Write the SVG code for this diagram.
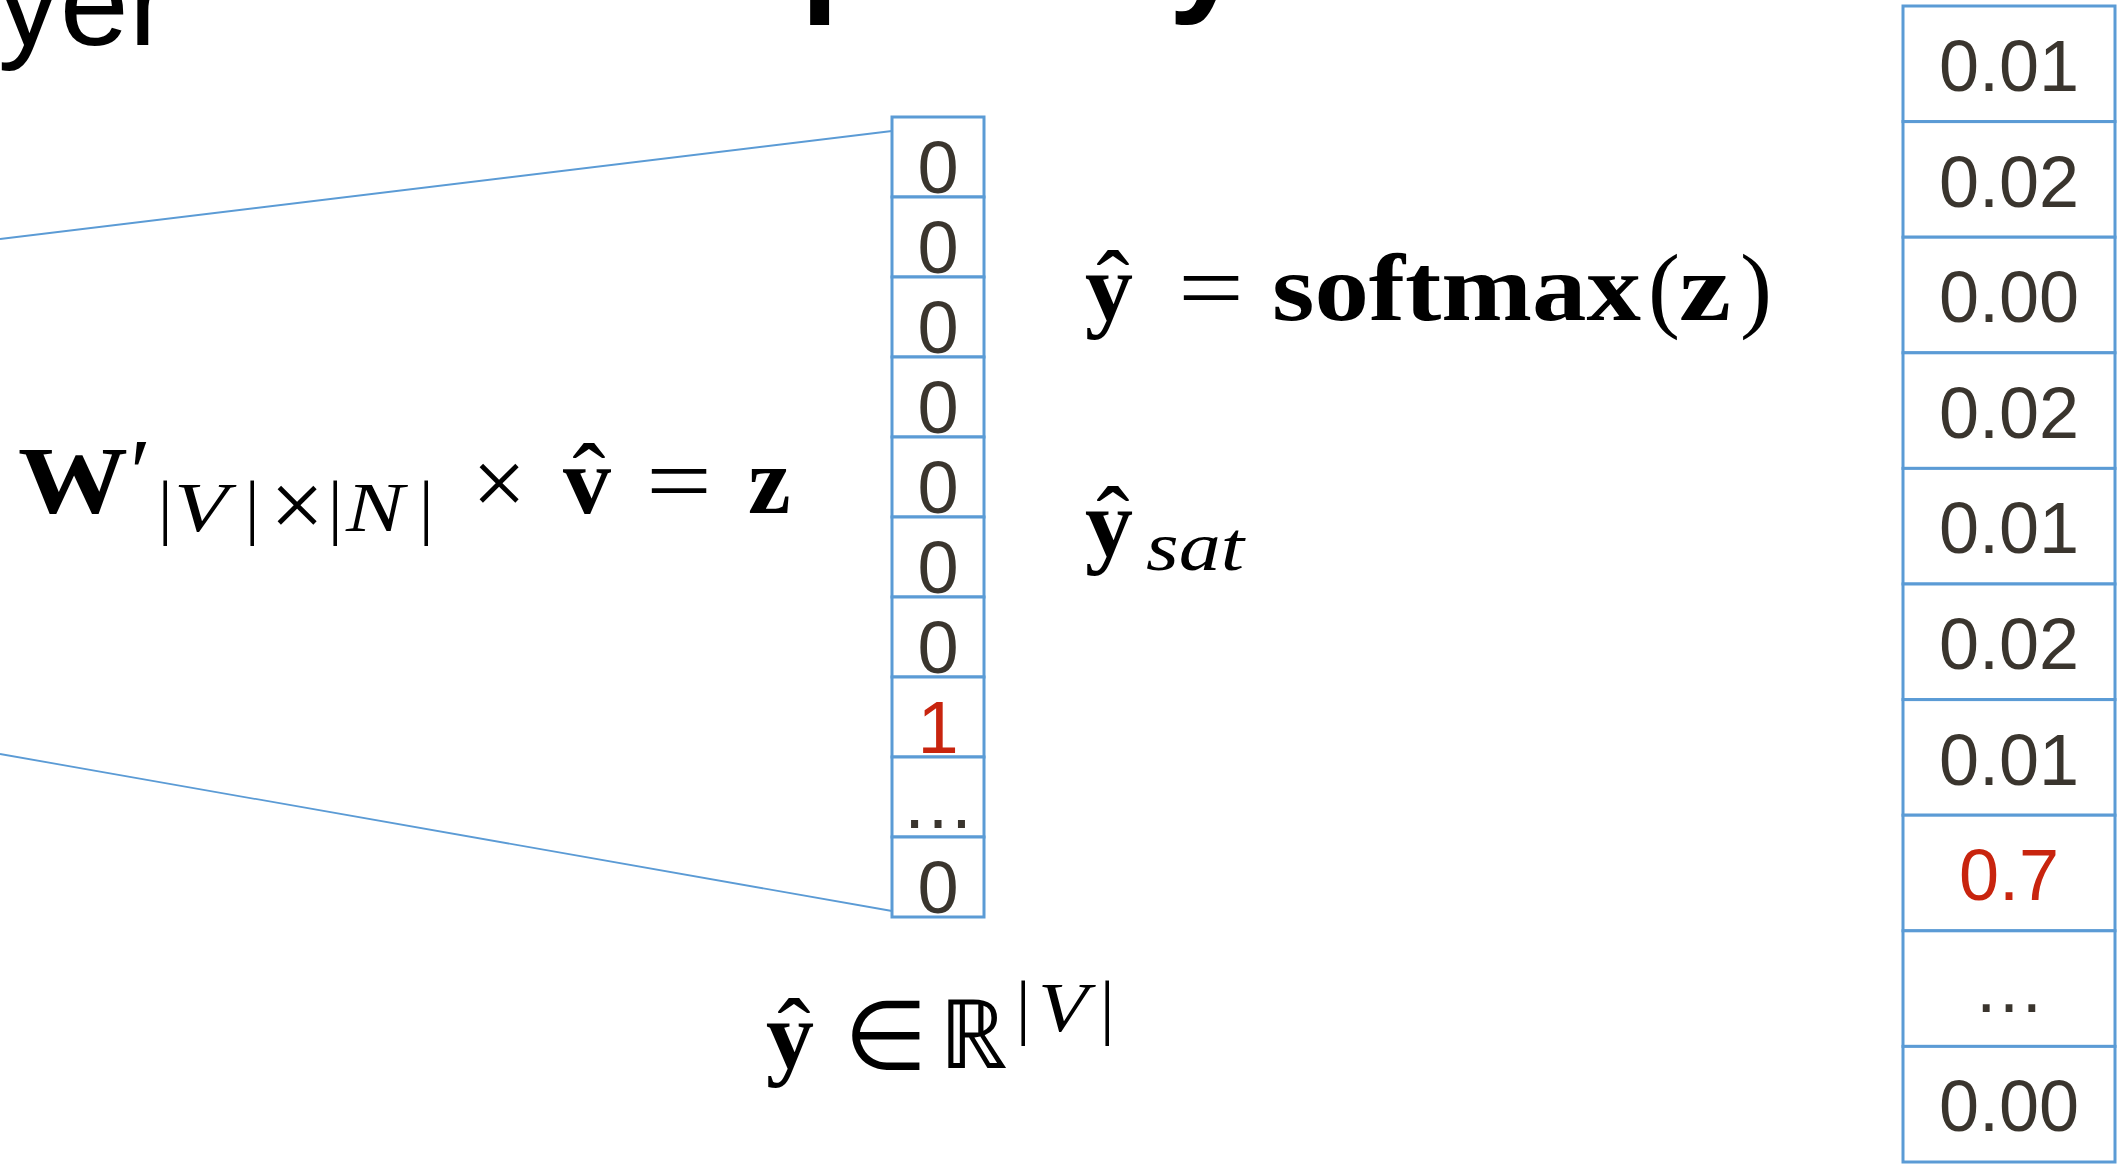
<svg xmlns="http://www.w3.org/2000/svg" width="2126" height="1168" viewBox="0 0 2126 1168">
<style>
.cell{fill:#ffffff;stroke:#5b9bd5;stroke-width:3}
.conn{stroke:#5b9bd5;stroke-width:1.8;fill:none}
.num{font-family:"Liberation Sans",Arial,sans-serif;fill:#3a352e;text-anchor:middle}
.mid{font-size:74px}
.prob{font-size:72px}
.red{fill:#c8240e}
.m{font-family:"Liberation Serif","Times New Roman",serif;fill:#000;font-size:96px}
.b{font-weight:bold}
.i{font-style:italic}
.s{font-size:70px}
.bar{font-size:72px}
.hat{font-family:"Liberation Serif","Times New Roman",serif;font-size:100px;fill:#000;text-anchor:middle}
.title{font-family:"Liberation Sans",Arial,sans-serif;fill:#000}
</style>
<rect width="2126" height="1168" fill="#ffffff"/>

<g id="titles">
  <text class="title" x="170" y="45" font-size="124" text-anchor="end">layer</text>
  <text class="title" x="563" y="-4" font-size="138" font-weight="bold">Output layer</text>
</g>

<g id="connectors">
  <line class="conn" x1="0" y1="239" x2="892" y2="131"/>
  <line class="conn" x1="0" y1="754" x2="892" y2="911"/>
</g>

<g id="onehot">
  <rect class="cell" x="892" y="117" width="92" height="80"/>
  <rect class="cell" x="892" y="197" width="92" height="80"/>
  <rect class="cell" x="892" y="277" width="92" height="80"/>
  <rect class="cell" x="892" y="357" width="92" height="80"/>
  <rect class="cell" x="892" y="437" width="92" height="80"/>
  <rect class="cell" x="892" y="517" width="92" height="80"/>
  <rect class="cell" x="892" y="597" width="92" height="80"/>
  <rect class="cell" x="892" y="677" width="92" height="80"/>
  <rect class="cell" x="892" y="757" width="92" height="80"/>
  <rect class="cell" x="892" y="837" width="92" height="80"/>
  <text class="num mid" x="938" y="193">0</text>
  <text class="num mid" x="938" y="273">0</text>
  <text class="num mid" x="938" y="353">0</text>
  <text class="num mid" x="938" y="433">0</text>
  <text class="num mid" x="938" y="513">0</text>
  <text class="num mid" x="938" y="593">0</text>
  <text class="num mid" x="938" y="673">0</text>
  <text class="num mid red" x="938" y="753">1</text>
  <text class="num mid" x="938" y="828">…</text>
  <text class="num mid" x="938" y="913">0</text>
</g>

<g id="probs">
  <rect class="cell" x="1903" y="6" width="212" height="115.6"/>
  <rect class="cell" x="1903" y="121.6" width="212" height="115.6"/>
  <rect class="cell" x="1903" y="237.2" width="212" height="115.6"/>
  <rect class="cell" x="1903" y="352.8" width="212" height="115.6"/>
  <rect class="cell" x="1903" y="468.4" width="212" height="115.6"/>
  <rect class="cell" x="1903" y="584" width="212" height="115.6"/>
  <rect class="cell" x="1903" y="699.6" width="212" height="115.6"/>
  <rect class="cell" x="1903" y="815.2" width="212" height="115.6"/>
  <rect class="cell" x="1903" y="930.8" width="212" height="115.6"/>
  <rect class="cell" x="1903" y="1046.4" width="212" height="115.6"/>
  <text class="num prob" x="2009" y="91">0.01</text>
  <text class="num prob" x="2009" y="206.6">0.02</text>
  <text class="num prob" x="2009" y="322.2">0.00</text>
  <text class="num prob" x="2009" y="437.8">0.02</text>
  <text class="num prob" x="2009" y="553.4">0.01</text>
  <text class="num prob" x="2009" y="669">0.02</text>
  <text class="num prob" x="2009" y="784.6">0.01</text>
  <text class="num prob red" x="2009" y="900.2">0.7</text>
  <text class="num prob" x="2009" y="1012">…</text>
  <text class="num prob" x="2009" y="1131.4">0.00</text>
</g>

<g id="eq-linear">
  <text class="m b" x="18" y="513" textLength="110" lengthAdjust="spacingAndGlyphs">W</text>
  <text class="m" x="130" y="505">′</text>
  <text class="m bar" x="158" y="531">|</text>
  <text class="m s i" x="174" y="531" textLength="54" lengthAdjust="spacingAndGlyphs">V</text>
  <text class="m bar" x="245" y="531">|</text>
  <text class="m" x="270" y="537" font-size="84">×</text>
  <text class="m bar" x="328" y="531">|</text>
  <text class="m s i" x="346" y="531" textLength="58" lengthAdjust="spacingAndGlyphs">N</text>
  <text class="m bar" x="419" y="531">|</text>
  <text class="m" x="472" y="515" font-size="100">×</text>
  <text class="m b" x="563" y="513">v</text>
  <text class="hat" x="589" y="513">ˆ</text>
  <text class="m" x="646" y="513" textLength="66" lengthAdjust="spacingAndGlyphs">=</text>
  <text class="m b" x="748" y="513">z</text>
</g>

<g id="eq-softmax">
  <text class="m b" x="1085" y="320">y</text>
  <text class="hat" x="1113" y="320">ˆ</text>
  <text class="m" x="1178" y="320" textLength="66" lengthAdjust="spacingAndGlyphs">=</text>
  <text class="m b" x="1272" y="320" textLength="369" lengthAdjust="spacingAndGlyphs">softmax</text>
  <text class="m" x="1648" y="320">(</text>
  <text class="m b" x="1679" y="320" textLength="52" lengthAdjust="spacingAndGlyphs">z</text>
  <text class="m" x="1740" y="320">)</text>
</g>

<g id="eq-ysat">
  <text class="m b" x="1085" y="556">y</text>
  <text class="hat" x="1113" y="556">ˆ</text>
  <text class="m s i" x="1146" y="570" font-size="66" textLength="98" lengthAdjust="spacingAndGlyphs">sat</text>
</g>

<g id="eq-domain">
  <text class="m b" x="766" y="1068">y</text>
  <text class="hat" x="794" y="1068">ˆ</text>
  <text class="m" x="844" y="1069" font-family="DejaVu Serif, serif" font-size="56">∈</text>
  <text class="m" x="939" y="1068" font-family="DejaVu Sans, sans-serif" font-size="92">ℝ</text>
  <text class="m bar" x="1016" y="1031">|</text>
  <text class="m s i" x="1038" y="1031" textLength="50" lengthAdjust="spacingAndGlyphs">V</text>
  <text class="m bar" x="1100" y="1031">|</text>
</g>
</svg>
